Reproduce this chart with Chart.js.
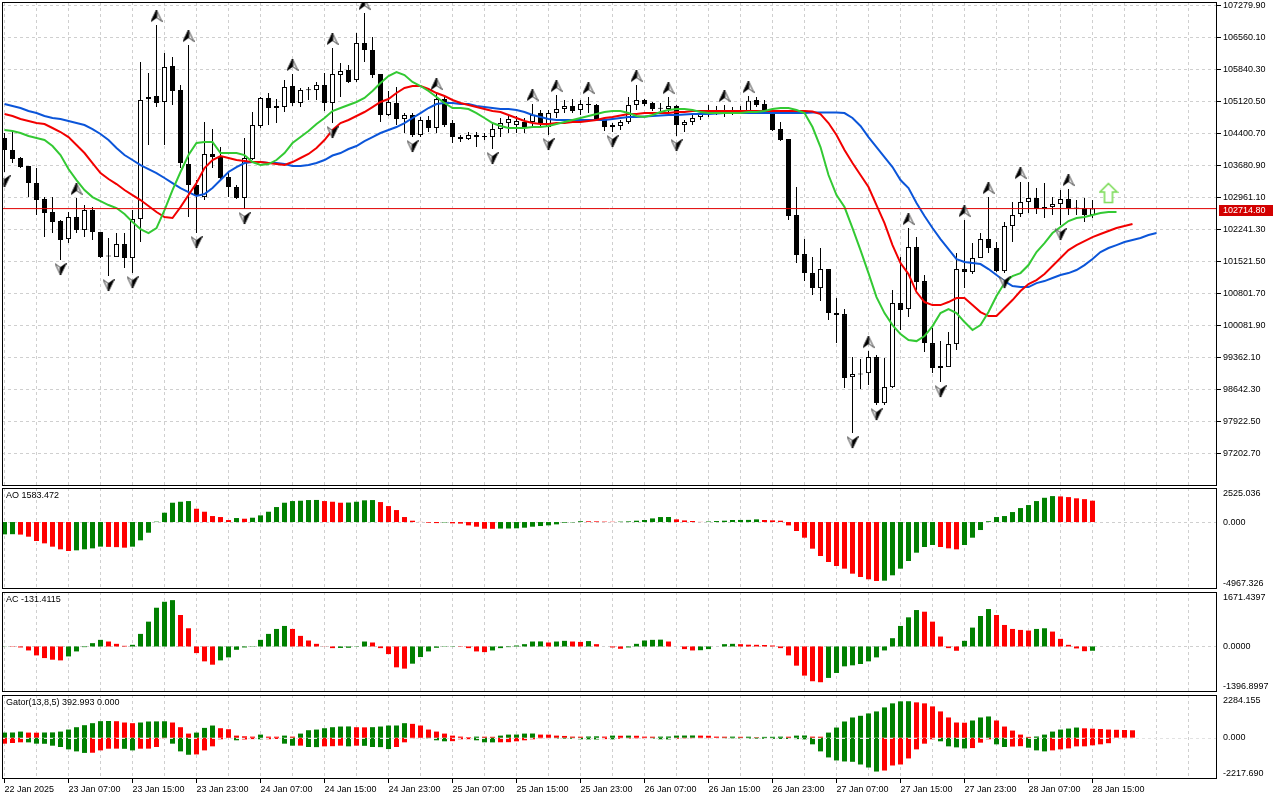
<!DOCTYPE html>
<html>
<head>
<meta charset="utf-8">
<script src="https://cdn.jsdelivr.net/npm/chart.js@4.4.1/dist/chart.umd.min.js"></script>
<style>
  html, body { margin: 0; padding: 0; background: #fff; }
  body { width: 1280px; height: 800px; position: relative; overflow: hidden; }
  canvas { position: absolute; left: 0; }
</style>
</head>
<body>
<canvas id="main" width="1280" height="488" style="top:0px"></canvas>
<canvas id="ao" width="1280" height="103" style="top:487px"></canvas>
<canvas id="ac" width="1280" height="102" style="top:591px"></canvas>
<canvas id="gator" width="1280" height="106" style="top:694px"></canvas>
<script>
// hourly candles, index 0 = 22 Jan 2025 23:00
const timeLabels = ['22 Jan 2025', '23 Jan 07:00', '23 Jan 15:00', '23 Jan 23:00', '24 Jan 07:00', '24 Jan 15:00',
  '24 Jan 23:00', '25 Jan 07:00', '25 Jan 15:00', '25 Jan 23:00', '26 Jan 07:00', '26 Jan 15:00',
  '26 Jan 23:00', '27 Jan 07:00', '27 Jan 15:00', '27 Jan 23:00', '28 Jan 07:00', '28 Jan 15:00'];

const priceTicks = [107279.90, 106560.10, 105840.30, 105120.50, 104400.70, 103680.90, 102961.10, 102241.30,
  101521.50, 100801.70, 100081.90, 99362.10, 98642.30, 97922.50, 97202.70];

const open = [
  104303,104033,103853,103673,103290,102930,102638,102435,102030,102525,
  102233,102683,102188,101648,101625,101918,101603,102480,105180,105248,
  105113,105923,105383,103718,103245,102975,103943,103875,103425,103200,
  102953,103830,104573,105203,104978,105000,105473,105090,105383,105383,
  105495,105090,105720,105833,105608,106440,106283,105743,104820,105090,
  104730,104820,104370,104708,104528,105180,104640,104325,104280,104370,
  104348,104325,104505,104640,104595,104663,104663,104865,104550,104865,
  104955,105023,104933,105068,105045,104708,104595,104573,104663,105045,
  105158,105090,104978,104955,105023,104595,104663,104775,104865,104933,
  104910,104933,104888,104895,105158,105068,104865,104505,104280,102570,
  101693,101265,100928,101355,100365,100343,98925,98993,99015,99375,
  98340,98700,100590,100455,101850,101085,99690,99128,99150,99668,
  101355,101288,101603,102030,101828,101310,102323,102593,102863,102953,
  102705,102750,102818,102930,102728,102728,102570];
const high = [
  104416,104483,103875,103673,103628,102975,102975,102458,102638,102953,
  102795,102750,102188,102053,102165,102165,102683,106013,105765,106845,
  106215,106125,105495,106395,103358,104663,104505,104100,103515,103245,
  104303,104888,105225,105315,105180,105608,105743,105428,105450,105563,
  105765,106328,105990,105945,106665,107115,106575,105743,105360,105450,
  104865,104865,104775,104798,105315,105225,104708,104370,104438,104438,
  104415,104640,104753,104820,104798,104753,105068,104933,104933,105270,
  105158,105180,105158,105225,105068,104753,104640,104708,105225,105495,
  105180,105113,105090,105225,105045,104708,104820,104933,105045,105023,
  105045,105000,105023,105248,105225,105158,104888,104663,104280,103200,
  102030,101625,101828,101355,100703,100455,99375,99330,99510,99420,
  99353,100883,101625,102278,102075,101220,100028,99735,99938,101715,
  102458,101940,102165,102975,101963,102413,102863,103313,103313,103178,
  103290,102975,103133,103155,102908,102953,102908];
const low = [
  103538,103740,103628,102975,102570,102075,102165,101558,101940,102165,
  102075,102008,101603,101198,101625,101378,101265,101963,104145,105000,
  104145,105045,103628,102525,102165,102908,103628,103358,102975,102930,
  102705,103808,104528,104595,104640,104888,105023,105000,105158,105158,
  104910,104640,105225,105540,105563,106013,105653,104663,104798,104595,
  104415,104325,104325,104438,104415,104550,104190,104213,104258,104100,
  104258,104055,104325,104415,104415,104415,104550,104528,104370,104753,
  104865,104865,104820,104865,104685,104460,104438,104483,104618,104933,
  105023,104910,104888,104865,104348,104438,104595,104708,104775,104820,
  104775,104820,104843,104865,105000,104865,104460,104235,102458,101490,
  101085,100770,100635,100208,99690,98678,97665,98655,98745,98295,
  98295,98678,99983,100275,100883,99488,99015,98813,99150,99533,
  100928,101243,101603,101715,101288,101265,101963,102525,102615,102593,
  102503,102570,102345,102570,102570,102413,102503];
const close = [
  104033,103830,103650,103290,102908,102615,102413,102008,102525,102233,
  102683,102188,101625,101640,101918,101603,102480,105158,105225,105090,
  105900,105360,103740,103245,103020,103943,103875,103403,103200,102953,
  103853,104595,105203,104978,105023,105450,105090,105383,105378,105495,
  105090,105743,105810,105563,106440,106283,105720,104820,105113,104730,
  104820,104370,104708,104528,105180,104595,104325,104280,104370,104325,
  104325,104505,104640,104730,104685,104550,104820,104618,104865,104955,
  105023,104910,105068,105045,104708,104550,104550,104663,105045,105158,
  105068,104955,104960,105023,104595,104663,104753,104865,104888,104865,
  104865,104888,104910,105142,105045,104910,104483,104258,102548,101670,
  101265,100928,101355,100365,100320,98903,98993,98985,99375,98340,
  98700,100590,100433,101850,101063,99690,99128,99173,99668,101355,
  101288,101603,102030,101828,101310,102323,102570,102863,102953,102705,
  102750,102818,102930,102728,102720,102570,102714.8];

// Alligator lines as drawn (already shifted forward)
const jaw = [
  105068,105023,104978,104910,104865,104798,104753,104730,104685,104640,
  104595,104505,104393,104258,104078,103920,103808,103695,103605,103515,
  103403,103290,103178,103088,102998,103043,103178,103358,103538,103650,
  103740,103763,103763,103740,103740,103718,103673,103673,103695,103740,
  103808,103909,103965,104055,104123,104235,104325,104415,104483,104550,
  104640,104753,104865,104978,105068,105090,105090,105068,105068,105023,
  105000,104978,104955,104955,104933,104888,104820,104775,104730,104708,
  104708,104708,104708,104708,104708,104708,104730,104753,104775,104775,
  104787,104798,104809,104820,104820,104832,104843,104843,104843,104854,
  104865,104865,104865,104865,104865,104865,104865,104865,104865,104865,
  104865,104877,104877,104877,104877,104865,104753,104573,104325,104100,
  103875,103650,103358,103178,102840,102548,102278,102030,101805,101580,
  101513,101490,101468,101355,101220,101085,100973,100950,100950,101040,
  101085,101153,101220,101265,101333,101445,101580,101738,101828,101895,
  101963,102008,102053,102120,102165];
const teeth = [
  104843,104798,104730,104685,104640,104618,104528,104438,104325,104145,
  103965,103740,103515,103380,103268,103133,103020,102908,102773,102638,
  102525,102503,102750,103020,103290,103628,103808,103898,103853,103808,
  103785,103763,103763,103740,103718,103695,103763,103853,103943,104078,
  104258,104483,104640,104708,104798,104888,105000,105113,105180,105315,
  105428,105473,105473,105405,105315,105248,105158,105090,105045,105000,
  104955,104910,104888,104820,104753,104685,104640,104618,104618,104640,
  104640,104663,104663,104685,104708,104753,104775,104809,104843,104843,
  104865,104865,104865,104865,104888,104888,104910,104910,104910,104910,
  104910,104910,104910,104910,104910,104910,104910,104910,104910,104910,
  104910,104899,104843,104640,104370,104033,103740,103470,103200,102795,
  102390,101895,101490,101243,100838,100613,100545,100545,100613,100703,
  100703,100545,100388,100298,100298,100478,100658,100860,101018,101108,
  101243,101423,101603,101783,101895,101985,102075,102143,102210,102278,
  102323,102368];
const lips = [
  104483,104460,104415,104348,104303,104258,104123,103920,103605,103358,
  103133,102975,102885,102795,102728,102593,102413,102255,102165,102278,
  102683,103133,103538,103920,104190,104213,104213,103965,103965,103965,
  103920,103763,103695,103718,103808,103965,104190,104325,104460,104618,
  104753,104910,104978,105045,105113,105203,105360,105540,105698,105788,
  105720,105563,105473,105360,105225,105090,104978,104978,104955,104865,
  104753,104640,104573,104528,104528,104528,104550,104550,104573,104618,
  104663,104708,104753,104798,104843,104888,104910,104910,104865,104798,
  104775,104820,104888,104933,104955,104955,104933,104888,104865,104865,
  104865,104865,104865,104888,104888,104910,104955,104978,104978,104933,
  104865,104550,104100,103470,103020,102750,102278,101783,101265,100725,
  100365,100095,99893,99758,99735,99848,100073,100365,100455,100365,
  100163,99983,100095,100388,100748,101040,101198,101265,101445,101738,
  101940,102165,102300,102435,102503,102525,102570,102615,102638,102638];

// Bill Williams fractals (candle indexes)
const fractalUp = [9, 19, 23, 36, 41, 45, 54, 66, 69, 73, 79, 83, 90, 93, 108, 113, 120, 123, 127, 133];
const fractalDown = [0, 7, 13, 16, 24, 30, 41, 51, 61, 68, 76, 84, 106, 109, 117, 125, 132];
const signalArrow = [{ x: 138, y: 103065 }];

const ao = [
  -914,-902,-931,-1086,-1407,-1581,-1827,-2025,-2149,-2099,
  -2025,-1952,-1824,-1843,-1862,-1902,-1827,-1358,-791,29,
  692,1433,1506,1556,987,765,444,371,148,297,
  247,321,494,765,1112,1433,1556,1581,1631,1639,
  1556,1506,1433,1445,1506,1610,1631,1482,1185,889,
  371,99,10,-48,-78,-29,-97,-116,-247,-346,
  -494,-504,-485,-480,-466,-420,-346,-297,-247,-173,
  -50,-25,60,55,50,30,20,30,50,100,
  150,270,370,375,200,120,75,10,40,75,
  100,150,155,160,200,150,125,100,-250,-667,
  -1161,-1976,-2520,-2964,-3260,-3458,-3829,-4076,-4248,-4372,
  -4350,-3952,-3458,-2890,-2273,-1853,-1704,-1853,-1952,-2026,
  -1704,-1161,-593,60,370,445,741,1037,1260,1556,
  1800,1925,1900,1850,1760,1700,1583.472];
const ac = [
  5,-10,-30,-122,-274,-356,-406,-427,-305,-152,
  -20,102,203,152,81,20,51,386,762,1189,
  1372,1422,965,559,-203,-457,-559,-427,-335,-102,
  -30,10,203,386,538,630,538,325,183,81,
  5,-51,-45,-40,10,152,122,-51,-234,-640,
  -680,-528,-325,-152,-40,-10,10,-10,-51,-152,
  -173,-122,-51,-20,30,71,152,155,122,152,
  173,152,140,165,71,0,-30,-71,-30,81,
  183,203,210,152,0,-81,-122,-115,-81,0,
  71,81,71,55,51,45,30,-51,-274,-589,
  -894,-1067,-1097,-965,-813,-610,-579,-538,-457,-335,
  -122,254,630,894,1118,1067,762,305,-51,-132,
  173,579,935,1148,965,660,538,508,488,538,
  559,457,234,51,-60,-145,-131.4115];
const gatorUp = [
  270,275,324,270,265,275,280,324,432,558,
  666,774,882,890,880,810,774,810,864,870,
  876,810,558,216,270,522,648,504,450,108,
  72,54,162,54,50,108,54,216,396,432,
  504,558,594,600,558,550,560,594,648,650,
  774,738,648,432,324,216,108,54,20,54,
  50,45,108,162,165,216,220,162,160,108,
  90,54,50,60,70,55,108,100,108,100,
  54,50,54,60,108,112,115,108,100,54,
  50,54,45,50,20,40,45,54,50,108,
  115,54,50,270,540,864,1080,1170,1296,1404,
  1620,1836,1944,1950,1890,1836,1674,1404,1080,810,
  800,918,1080,1134,918,594,378,162,40,60,
  162,324,432,486,540,500,480,460,432,420,
  410,392.993];
const gatorDown = [
  -324,-288,-252,-255,-324,-330,-432,-504,-630,-738,
  -820,-810,-684,-594,-590,-600,-684,-594,-590,-504,
  -36,-324,-738,-918,-900,-684,-468,-90,-20,-144,
  -100,-80,-90,-85,-72,-324,-432,-430,-504,-510,
  -468,-460,-432,-468,-432,-440,-504,-510,-612,-504,
  -252,-36,-20,-36,-144,-198,-190,-90,-85,-144,
  -252,-255,-250,-245,-198,-144,-90,-36,-30,-45,
  -54,-60,-90,-95,-100,-80,-90,-60,-50,-40,
  -36,-50,-90,-95,-60,-40,-36,-30,-25,-20,
  -36,-40,-45,-50,-55,-60,-65,-70,-72,-80,
  -90,-360,-738,-1062,-1224,-1278,-1296,-1440,-1602,-1818,
  -1764,-1494,-1440,-1116,-630,-324,-90,-198,-468,-522,
  -580,-560,-270,-90,-360,-504,-480,-460,-540,-684,
  -738,-684,-630,-576,-470,-468,-414,-360,-300];

// --- styling ---
const FONT_FAMILY = "'Liberation Sans', Arial, sans-serif";
const GRID = '#cfcfcf';
const GREEN = '#008000';
const RED = '#ff0000';
Chart.defaults.font.family = FONT_FAMILY;
Chart.defaults.font.size = 9;
Chart.defaults.color = '#000';

const X_MIN = -0.3125, X_MAX = 151.5625;   // candle i sits at x = 4.5 + 8i
const PRICE_MAX = 107362.5, PRICE_MIN = 96475.4;
const gridIdx = [];
for (let i = 0; i <= 151; i += 4) gridIdx.push(i);
const labelIdx = timeLabels.map((_, k) => k * 8);

const xy = arr => arr.map((v, i) => ({ x: i, y: v }));
const upDown = (arr, first) => arr.map((v, i) => (i === 0 ? first : (v > arr[i - 1] ? GREEN : RED)));
const absUpDown = (arr, first) => arr.map((v, i) => (i === 0 ? first : (Math.abs(v) > Math.abs(arr[i - 1]) ? GREEN : RED)));

function xGridScale() {
  return {
    type: 'linear', position: 'bottom', min: X_MIN, max: X_MAX, offset: false,
    ticks: { display: false },
    grid: { color: GRID, drawTicks: false, offset: false },
    border: { display: false, dash: [3, 3] },
    afterBuildTicks: s => { s.ticks = gridIdx.map(v => ({ value: v })); },
    afterFit: s => { s.height = 0; s.paddingLeft = 0; s.paddingRight = 0; }
  };
}

function subY(min, max) {
  return {
    position: 'right', min: min, max: max,
    ticks: { display: false },
    grid: { display: false },
    border: { display: false },
    afterFit: s => { s.width = 63; s.paddingTop = 0; s.paddingBottom = 0; }
  };
}

function fractalIcon(up) {
  const c = document.createElement('canvas');
  c.width = 12; c.height = 40;
  const g = c.getContext('2d');
  const cx = 6, cy = up ? 11 : 29;
  const tipY = up ? cy - 6 : cy + 6;
  const baseY = up ? cy + 5.5 : cy - 5.5;
  const notchY = up ? cy + 1.5 : cy - 1.5;
  g.beginPath();
  g.moveTo(cx, tipY); g.lineTo(up ? cx + 5.5 : cx - 5.5, baseY); g.lineTo(cx, notchY); g.closePath();
  g.fillStyle = '#e4e4e4'; g.fill();
  g.strokeStyle = '#505050'; g.lineWidth = 1; g.stroke();
  g.beginPath();
  g.moveTo(cx, tipY); g.lineTo(up ? cx - 5.5 : cx + 5.5, baseY); g.lineTo(cx, notchY); g.closePath();
  g.fillStyle = '#000'; g.fill();
  g.strokeStyle = '#000'; g.stroke();
  return c;
}

function signalIcon() {
  const c = document.createElement('canvas');
  c.width = 20; c.height = 22;
  const g = c.getContext('2d');
  g.beginPath();
  g.moveTo(10, 1.5); g.lineTo(18.5, 10); g.lineTo(14, 10); g.lineTo(14, 20.5);
  g.lineTo(6, 20.5); g.lineTo(6, 10); g.lineTo(1.5, 10); g.closePath();
  g.fillStyle = '#ffffff'; g.fill();
  g.strokeStyle = '#7ddc5a'; g.lineWidth = 1.6; g.stroke();
  return c;
}

// frame, titles, right-side labels, zero line
const panelCfg = {};
function drawZero(chart) {
  const cfg = panelCfg[chart.canvas.id];
  if (!cfg || !cfg.zero) return;
  const { ctx, chartArea: a, scales } = chart;
  const y = Math.round(scales.y.getPixelForValue(0)) + 0.5;
  ctx.save();
  ctx.strokeStyle = cfg.zero === 'over' ? '#e2e2e2' : GRID;
  ctx.lineWidth = 1;
  ctx.setLineDash([3, 3]);
  ctx.beginPath(); ctx.moveTo(a.left, y); ctx.lineTo(a.right, y); ctx.stroke();
  ctx.restore();
}
const panelPlugin = {
  id: 'panelDecor',
  beforeDatasetsDraw(chart) {
    const cfg = panelCfg[chart.canvas.id];
    if (cfg && cfg.zero === 'under') drawZero(chart);
  },
  afterDatasetsDraw(chart) {
    const cfg = panelCfg[chart.canvas.id];
    if (cfg && cfg.zero === 'over') drawZero(chart);
  },
  afterDraw(chart) {
    const cfg = panelCfg[chart.canvas.id] || {};
    const { ctx, chartArea: a, scales } = chart;
    ctx.save();
    ctx.strokeStyle = '#000'; ctx.lineWidth = 1;
    ctx.strokeRect(a.left + 0.5, a.top + 0.5, a.right - a.left - 1, a.bottom - a.top - 1);
    ctx.font = '9px ' + FONT_FAMILY;
    ctx.fillStyle = '#000';
    ctx.textAlign = 'left';
    if (cfg.title) {
      ctx.textBaseline = 'top';
      ctx.fillText(cfg.title, a.left + 4, a.top + 3);
    }
    (cfg.axisLabels || []).forEach(l => {
      let y;
      if (l.place === 'top') { ctx.textBaseline = 'top'; y = a.top + 1; }
      else if (l.place === 'bottom') { ctx.textBaseline = 'bottom'; y = a.bottom - 1; }
      else { ctx.textBaseline = 'middle'; y = scales.y.getPixelForValue(l.value); }
      ctx.fillText(l.text, a.right + 6, y);
    });
    if (cfg.priceTag !== undefined) {
      const y = Math.round(scales.y.getPixelForValue(cfg.priceTag));
      ctx.fillStyle = '#d20000';
      ctx.fillRect(a.right + 2, y - 4, 54, 11);
      ctx.fillStyle = '#fff';
      ctx.textBaseline = 'middle';
      ctx.fillText(cfg.priceTag.toFixed(2), a.right + 6, y + 1.5);
    }
    ctx.restore();
  }
};

const baseOpts = {
  responsive: false, animation: false, devicePixelRatio: 1, events: [],
  plugins: { legend: { display: false }, tooltip: { enabled: false } }
};

// ---------- main price window ----------
const lastClose = close[close.length - 1];
panelCfg.main = { priceTag: lastClose };
const bull = close.map((c, i) => c >= open[i]);

new Chart(document.getElementById('main'), {
  type: 'bar',
  data: {
    datasets: [
      { type: 'bar', order: 7, grouped: false, barThickness: 1, inflateAmount: 0, borderWidth: 0,
        backgroundColor: '#000', data: low.map((l, i) => ({ x: i, y: [l, high[i]] })) },
      { type: 'bar', order: 6, grouped: false, barThickness: 5, inflateAmount: 0, minBarLength: 1,
        borderWidth: 1, borderSkipped: false, borderColor: '#000',
        backgroundColor: bull.map(b => (b ? '#fff' : '#000')),
        data: open.map((o, i) => ({ x: i, y: [o, close[i]] })) },
      { type: 'line', order: 5, data: xy(jaw), borderColor: '#0b55d9', borderWidth: 2, pointRadius: 0, tension: 0 },
      { type: 'line', order: 4, data: xy(teeth), borderColor: '#f20000', borderWidth: 2, pointRadius: 0, tension: 0 },
      { type: 'line', order: 3, data: xy(lips), borderColor: '#33c933', borderWidth: 2, pointRadius: 0, tension: 0 },
      { type: 'line', order: 2, data: [{ x: X_MIN, y: lastClose }, { x: X_MAX, y: lastClose }],
        borderColor: '#e00000', borderWidth: 1, pointRadius: 0 },
      { type: 'line', order: 1, showLine: false, pointRadius: 5, pointStyle: fractalIcon(true),
        data: fractalUp.map(i => ({ x: i, y: high[i] })) },
      { type: 'line', order: 1, showLine: false, pointRadius: 5, pointStyle: fractalIcon(false),
        data: fractalDown.map(i => ({ x: i, y: low[i] })) },
      { type: 'line', order: 1, showLine: false, pointRadius: 5, pointStyle: signalIcon(), data: signalArrow }
    ]
  },
  options: Object.assign({}, baseOpts, {
    layout: { autoPadding: false, padding: { left: 2, top: 2, right: 0, bottom: 2 } },
    scales: {
      x: xGridScale(),
      y: {
        position: 'right', min: PRICE_MIN, max: PRICE_MAX,
        afterBuildTicks: s => { s.ticks = priceTicks.map(v => ({ value: v })); },
        ticks: { padding: 2, autoSkip: false, callback: v => Number(v).toFixed(2) },
        grid: { color: GRID, drawTicks: true, tickLength: 4, tickColor: '#000' },
        border: { display: false, dash: [3, 3] },
        afterFit: s => { s.width = 63; s.paddingTop = 0; s.paddingBottom = 0; }
      }
    }
  }),
  plugins: [panelPlugin]
});

// ---------- AO ----------
panelCfg.ao = {
  title: 'AO ' + ao[ao.length - 1].toFixed(3), zero: 'under',
  axisLabels: [{ place: 'top', text: '2525.036' }, { place: 'mid', value: 0, text: '0.000' }, { place: 'bottom', text: '-4967.326' }]
};
new Chart(document.getElementById('ao'), {
  type: 'bar',
  data: { datasets: [{ data: xy(ao), grouped: false, barThickness: 5, inflateAmount: 0, borderWidth: 0,
    backgroundColor: upDown(ao, GREEN) }] },
  options: Object.assign({}, baseOpts, {
    layout: { autoPadding: false, padding: { left: 2, top: 1, right: 0, bottom: 1 } },
    scales: { x: xGridScale(), y: subY(-4967.326, 2525.036) }
  }),
  plugins: [panelPlugin]
});

// ---------- AC ----------
panelCfg.ac = {
  title: 'AC ' + ac[ac.length - 1].toFixed(4), zero: 'under',
  axisLabels: [{ place: 'top', text: '1671.4397' }, { place: 'mid', value: 0, text: '0.0000' }, { place: 'bottom', text: '-1396.8997' }]
};
new Chart(document.getElementById('ac'), {
  type: 'bar',
  data: { datasets: [{ data: xy(ac), grouped: false, barThickness: 5, inflateAmount: 0, borderWidth: 0,
    backgroundColor: upDown(ac, GREEN) }] },
  options: Object.assign({}, baseOpts, {
    layout: { autoPadding: false, padding: { left: 2, top: 1, right: 0, bottom: 1 } },
    scales: { x: xGridScale(), y: subY(-1396.8997, 1671.4397) }
  }),
  plugins: [panelPlugin]
});

// ---------- Gator + time axis ----------
panelCfg.gator = {
  title: 'Gator(13,8,5) ' + gatorUp[gatorUp.length - 1].toFixed(3) + ' ' + (0).toFixed(3), zero: 'over',
  axisLabels: [{ place: 'top', text: '2284.155' }, { place: 'mid', value: 0, text: '0.000' }, { place: 'bottom', text: '-2217.690' }]
};
new Chart(document.getElementById('gator'), {
  type: 'bar',
  data: { datasets: [
    { data: xy(gatorUp), xAxisID: 'x', grouped: false, barThickness: 5, inflateAmount: 0, borderWidth: 0,
      backgroundColor: upDown(gatorUp, GREEN) },
    { data: xy(gatorDown), xAxisID: 'x', grouped: false, barThickness: 5, inflateAmount: 0, borderWidth: 0,
      backgroundColor: absUpDown(gatorDown, RED) }
  ] },
  options: Object.assign({}, baseOpts, {
    layout: { autoPadding: false, padding: { left: 2, top: 1, right: 0, bottom: 0 } },
    scales: {
      x: xGridScale(),
      xl: {
        type: 'linear', position: 'bottom', min: X_MIN, max: X_MAX, offset: false,
        afterBuildTicks: s => { s.ticks = labelIdx.map(v => ({ value: v })); },
        ticks: { align: 'start', autoSkip: false, maxRotation: 0, padding: 1,
          callback: (v, i) => timeLabels[i] },
        grid: { drawOnChartArea: false, tickLength: 4, color: '#000', tickColor: '#000', offset: false },
        border: { display: false },
        afterFit: s => { s.height = 21; s.paddingLeft = 0; s.paddingRight = 0; }
      },
      y: subY(-2217.69, 2284.155)
    }
  }),
  plugins: [panelPlugin]
});
</script>
</body>
</html>
